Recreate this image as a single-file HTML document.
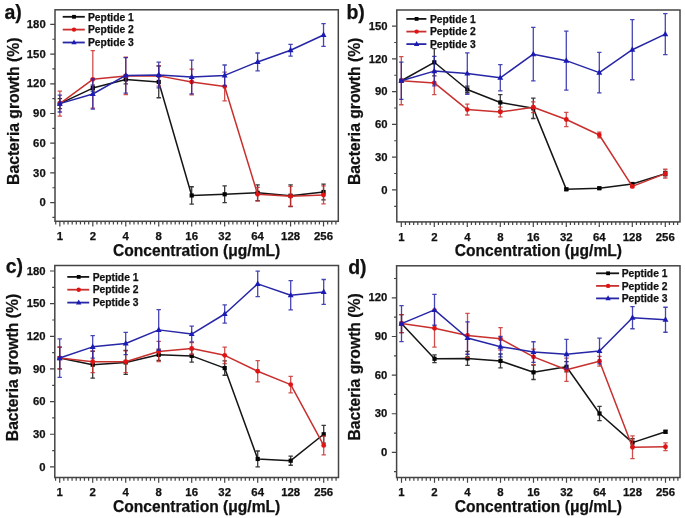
<!DOCTYPE html><html><head><meta charset="utf-8"><style>html,body{margin:0;padding:0;background:#fff;width:685px;height:518px;overflow:hidden}svg{display:block;filter:blur(0.35px)}text{font-family:'Liberation Sans', sans-serif;font-weight:bold;fill:#111;stroke:#111;stroke-width:0.25px}</style></head><body>
<svg width="685" height="518" viewBox="0 0 685 518">
<g><rect x="55" y="9.8" width="283.3" height="211.5" fill="none" stroke="#444444" stroke-width="1.5"/><path d="M52.4 217.45H55M50.2 202.6H55M52.4 187.75H55M50.2 172.9H55M52.4 158.05H55M50.2 143.2H55M52.4 128.35H55M50.2 113.5H55M52.4 98.65H55M50.2 83.8H55M52.4 68.95H55M50.2 54.1H55M52.4 39.25H55M50.2 24.4H55M55.73 221.3V224.5M59.85 221.3V226.5M63.97 221.3V224.5M68.09 221.3V224.5M72.21 221.3V224.5M76.33 221.3V224.5M80.45 221.3V224.5M84.57 221.3V224.5M88.69 221.3V224.5M92.81 221.3V226.5M96.93 221.3V224.5M101.05 221.3V224.5M105.17 221.3V224.5M109.29 221.3V224.5M113.41 221.3V224.5M117.53 221.3V224.5M121.65 221.3V224.5M125.77 221.3V226.5M129.89 221.3V224.5M134.01 221.3V224.5M138.13 221.3V224.5M142.25 221.3V224.5M146.37 221.3V224.5M150.49 221.3V224.5M154.61 221.3V224.5M158.73 221.3V226.5M162.85 221.3V224.5M166.97 221.3V224.5M171.09 221.3V224.5M175.21 221.3V224.5M179.33 221.3V224.5M183.45 221.3V224.5M187.57 221.3V224.5M191.69 221.3V226.5M195.81 221.3V224.5M199.93 221.3V224.5M204.05 221.3V224.5M208.17 221.3V224.5M212.29 221.3V224.5M216.41 221.3V224.5M220.53 221.3V224.5M224.65 221.3V226.5M228.77 221.3V224.5M232.89 221.3V224.5M237.01 221.3V224.5M241.13 221.3V224.5M245.25 221.3V224.5M249.37 221.3V224.5M253.49 221.3V224.5M257.61 221.3V226.5M261.73 221.3V224.5M265.85 221.3V224.5M269.97 221.3V224.5M274.09 221.3V224.5M278.21 221.3V224.5M282.33 221.3V224.5M286.45 221.3V224.5M290.57 221.3V226.5M294.69 221.3V224.5M298.81 221.3V224.5M302.93 221.3V224.5M307.05 221.3V224.5M311.17 221.3V224.5M315.29 221.3V224.5M319.41 221.3V224.5M323.53 221.3V226.5M327.65 221.3V224.5M331.77 221.3V224.5M335.89 221.3V224.5" stroke="#444444" stroke-width="1.2" fill="none"/><text x="45.7" y="206.2" font-size="11.3" text-anchor="end">0</text><text x="45.7" y="176.5" font-size="11.3" text-anchor="end">30</text><text x="45.7" y="146.8" font-size="11.3" text-anchor="end">60</text><text x="45.7" y="117.1" font-size="11.3" text-anchor="end">90</text><text x="45.7" y="87.4" font-size="11.3" text-anchor="end">120</text><text x="45.7" y="57.7" font-size="11.3" text-anchor="end">150</text><text x="45.7" y="28" font-size="11.3" text-anchor="end">180</text><text x="59.85" y="240" font-size="11.4" text-anchor="middle">1</text><text x="92.81" y="240" font-size="11.4" text-anchor="middle">2</text><text x="125.77" y="240" font-size="11.4" text-anchor="middle">4</text><text x="158.73" y="240" font-size="11.4" text-anchor="middle">8</text><text x="191.69" y="240" font-size="11.4" text-anchor="middle">16</text><text x="224.65" y="240" font-size="11.4" text-anchor="middle">32</text><text x="257.61" y="240" font-size="11.4" text-anchor="middle">64</text><text x="290.57" y="240" font-size="11.4" text-anchor="middle">128</text><text x="323.53" y="240" font-size="11.4" text-anchor="middle">256</text><path d="M59.85 98.65V108.55M57.65 98.65H62.05M57.65 108.55H62.05M92.81 85.09V91.03M90.61 85.09H95.01M90.61 91.03H95.01M125.77 74.99V83.9M123.57 74.99H127.97M123.57 83.9H127.97M158.73 66.08V97.76M156.53 66.08H160.93M156.53 97.76H160.93M191.69 186.76V204.18M189.49 186.76H193.89M189.49 204.18H193.89M224.65 185.97V202.6M222.45 185.97H226.85M222.45 202.6H226.85M257.61 184.88V200.72M255.41 184.88H259.81M255.41 200.72H259.81M290.57 184.88V206.66M288.37 184.88H292.77M288.37 206.66H292.77M323.53 184.09V199.93M321.33 184.09H325.73M321.33 199.93H325.73" stroke="#151515" stroke-width="1.3" fill="none" opacity="0.85"/><polyline points="59.85,103.6 92.81,88.06 125.77,79.44 158.73,81.92 191.69,195.47 224.65,194.28 257.61,192.8 290.57,195.77 323.53,192.01" stroke="#151515" stroke-width="1.5" fill="none" stroke-linejoin="round"/><rect x="57.75" y="101.5" width="4.2" height="4.2" fill="#050505"/><rect x="90.71" y="85.96" width="4.2" height="4.2" fill="#050505"/><rect x="123.67" y="77.34" width="4.2" height="4.2" fill="#050505"/><rect x="156.63" y="79.82" width="4.2" height="4.2" fill="#050505"/><rect x="189.59" y="193.37" width="4.2" height="4.2" fill="#050505"/><rect x="222.55" y="192.18" width="4.2" height="4.2" fill="#050505"/><rect x="255.51" y="190.7" width="4.2" height="4.2" fill="#050505"/><rect x="288.47" y="193.67" width="4.2" height="4.2" fill="#050505"/><rect x="321.43" y="189.91" width="4.2" height="4.2" fill="#050505"/><path d="M59.85 91.13V116.07M57.65 91.13H62.05M57.65 116.07H62.05M92.81 50.63V108.05M90.61 50.63H95.01M90.61 108.05H95.01M125.77 57.07V94.69M123.57 57.07H127.97M123.57 94.69H127.97M158.73 65.58V86.18M156.53 65.58H160.93M156.53 86.18H160.93M191.69 69.15V94.89M189.49 69.15H193.89M189.49 94.89H193.89M224.65 72.22V100.93M222.45 72.22H226.85M222.45 100.93H226.85M257.61 187.35V201.21M255.41 187.35H259.81M255.41 201.21H259.81M290.57 186.46V206.26M288.37 186.46H292.77M288.37 206.26H292.77M323.53 185.97V203.79M321.33 185.97H325.73M321.33 203.79H325.73" stroke="#c8302e" stroke-width="1.3" fill="none" opacity="0.85"/><polyline points="59.85,103.6 92.81,79.34 125.77,75.88 158.73,75.88 191.69,82.02 224.65,86.57 257.61,194.28 290.57,196.36 323.53,194.88" stroke="#c8302e" stroke-width="1.5" fill="none" stroke-linejoin="round"/><circle cx="59.85" cy="103.6" r="2.4" fill="#e01414"/><circle cx="92.81" cy="79.34" r="2.4" fill="#e01414"/><circle cx="125.77" cy="75.88" r="2.4" fill="#e01414"/><circle cx="158.73" cy="75.88" r="2.4" fill="#e01414"/><circle cx="191.69" cy="82.02" r="2.4" fill="#e01414"/><circle cx="224.65" cy="86.57" r="2.4" fill="#e01414"/><circle cx="257.61" cy="194.28" r="2.4" fill="#e01414"/><circle cx="290.57" cy="196.36" r="2.4" fill="#e01414"/><circle cx="323.53" cy="194.88" r="2.4" fill="#e01414"/><path d="M59.85 95.19V112.02M57.65 95.19H62.05M57.65 112.02H62.05M92.81 78.95V109.05M90.61 78.95H95.01M90.61 109.05H95.01M125.77 57.56V93.2M123.57 57.56H127.97M123.57 93.2H127.97M158.73 62.12V87.86M156.53 62.12H160.93M156.53 87.86H160.93M191.69 60.14V93.8M189.49 60.14H193.89M189.49 93.8H193.89M224.65 64.99V85.78M222.45 64.99H226.85M222.45 85.78H226.85M257.61 53.01V70.83M255.41 53.01H259.81M255.41 70.83H259.81M290.57 44.3V56.18M288.37 44.3H292.77M288.37 56.18H292.77M323.53 23.61V46.38M321.33 23.61H325.73M321.33 46.38H325.73" stroke="#2626a6" stroke-width="1.3" fill="none" opacity="0.85"/><polyline points="59.85,103.6 92.81,94 125.77,75.38 158.73,74.99 191.69,76.97 224.65,75.38 257.61,61.92 290.57,50.24 323.53,34.99" stroke="#2626a6" stroke-width="1.5" fill="none" stroke-linejoin="round"/><path d="M59.85 100.22L62.79 105.66L56.91 105.66Z" fill="#1a1ab4"/><path d="M92.81 90.62L95.75 96.05L89.87 96.05Z" fill="#1a1ab4"/><path d="M125.77 72L128.71 77.44L122.83 77.44Z" fill="#1a1ab4"/><path d="M158.73 71.61L161.67 77.05L155.79 77.05Z" fill="#1a1ab4"/><path d="M191.69 73.59L194.63 79.03L188.75 79.03Z" fill="#1a1ab4"/><path d="M224.65 72L227.59 77.44L221.71 77.44Z" fill="#1a1ab4"/><path d="M257.61 58.54L260.55 63.98L254.67 63.98Z" fill="#1a1ab4"/><path d="M290.57 46.86L293.51 52.3L287.63 52.3Z" fill="#1a1ab4"/><path d="M323.53 31.61L326.47 37.05L320.59 37.05Z" fill="#1a1ab4"/><path d="M62.7 16.8H84.8" stroke="#151515" stroke-width="1.8"/><rect x="72.1" y="14.9" width="3.8" height="3.8" fill="#050505"/><text x="88" y="20.5" font-size="10.3">Peptide 1</text><path d="M62.7 29.6H84.8" stroke="#c8302e" stroke-width="1.8"/><circle cx="74" cy="29.6" r="2.2" fill="#e01414"/><text x="88" y="33.3" font-size="10.3">Peptide 2</text><path d="M62.7 42.5H84.8" stroke="#2626a6" stroke-width="1.8"/><path d="M74 39.44L76.66 44.36L71.34 44.36Z" fill="#1a1ab4"/><text x="88" y="46.2" font-size="10.3">Peptide 3</text><text x="4.4" y="19" font-size="19.5">a)</text><text transform="translate(18.8 184.9) rotate(-90)" font-size="15.7">Bacteria growth (%)</text><text x="196.65" y="255.6" font-size="15.6" text-anchor="middle">Concentration (μg/mL)</text></g>
<g><rect x="396.8" y="10" width="283.2" height="211.9" fill="none" stroke="#444444" stroke-width="1.5"/><path d="M394.2 206.28H396.8M392 189.9H396.8M394.2 173.52H396.8M392 157.15H396.8M394.2 140.77H396.8M392 124.4H396.8M394.2 108.02H396.8M392 91.65H396.8M394.2 75.27H396.8M392 58.9H396.8M394.2 42.52H396.8M392 26.15H396.8M401.3 221.9V227.1M405.43 221.9V225.1M409.55 221.9V225.1M413.68 221.9V225.1M417.8 221.9V225.1M421.93 221.9V225.1M426.05 221.9V225.1M430.18 221.9V225.1M434.3 221.9V227.1M438.43 221.9V225.1M442.55 221.9V225.1M446.68 221.9V225.1M450.8 221.9V225.1M454.93 221.9V225.1M459.05 221.9V225.1M463.18 221.9V225.1M467.3 221.9V227.1M471.43 221.9V225.1M475.55 221.9V225.1M479.68 221.9V225.1M483.8 221.9V225.1M487.93 221.9V225.1M492.05 221.9V225.1M496.18 221.9V225.1M500.3 221.9V227.1M504.43 221.9V225.1M508.55 221.9V225.1M512.67 221.9V225.1M516.8 221.9V225.1M520.92 221.9V225.1M525.05 221.9V225.1M529.17 221.9V225.1M533.3 221.9V227.1M537.42 221.9V225.1M541.55 221.9V225.1M545.67 221.9V225.1M549.8 221.9V225.1M553.92 221.9V225.1M558.05 221.9V225.1M562.17 221.9V225.1M566.3 221.9V227.1M570.42 221.9V225.1M574.55 221.9V225.1M578.67 221.9V225.1M582.8 221.9V225.1M586.92 221.9V225.1M591.05 221.9V225.1M595.17 221.9V225.1M599.3 221.9V227.1M603.42 221.9V225.1M607.55 221.9V225.1M611.67 221.9V225.1M615.8 221.9V225.1M619.92 221.9V225.1M624.05 221.9V225.1M628.17 221.9V225.1M632.3 221.9V227.1M636.42 221.9V225.1M640.55 221.9V225.1M644.67 221.9V225.1M648.8 221.9V225.1M652.92 221.9V225.1M657.05 221.9V225.1M661.17 221.9V225.1M665.3 221.9V227.1M669.42 221.9V225.1M673.55 221.9V225.1M677.67 221.9V225.1" stroke="#444444" stroke-width="1.2" fill="none"/><text x="387.5" y="193.5" font-size="11.3" text-anchor="end">0</text><text x="387.5" y="160.75" font-size="11.3" text-anchor="end">30</text><text x="387.5" y="128" font-size="11.3" text-anchor="end">60</text><text x="387.5" y="95.25" font-size="11.3" text-anchor="end">90</text><text x="387.5" y="62.5" font-size="11.3" text-anchor="end">120</text><text x="387.5" y="29.75" font-size="11.3" text-anchor="end">150</text><text x="401.3" y="240.6" font-size="11.4" text-anchor="middle">1</text><text x="434.3" y="240.6" font-size="11.4" text-anchor="middle">2</text><text x="467.3" y="240.6" font-size="11.4" text-anchor="middle">4</text><text x="500.3" y="240.6" font-size="11.4" text-anchor="middle">8</text><text x="533.3" y="240.6" font-size="11.4" text-anchor="middle">16</text><text x="566.3" y="240.6" font-size="11.4" text-anchor="middle">32</text><text x="599.3" y="240.6" font-size="11.4" text-anchor="middle">64</text><text x="632.3" y="240.6" font-size="11.4" text-anchor="middle">128</text><text x="665.3" y="240.6" font-size="11.4" text-anchor="middle">256</text><path d="M401.3 79.64V81.82M399.1 79.64H403.5M399.1 81.82H403.5M434.3 48.63V75.93M432.1 48.63H436.5M432.1 75.93H436.5M467.3 86.19V92.74M465.1 86.19H469.5M465.1 92.74H469.5M500.3 94.59V110.32M498.1 94.59H502.5M498.1 110.32H502.5M533.3 98.2V118.5M531.1 98.2H535.5M531.1 118.5H535.5M566.3 188.26V190.45M564.1 188.26H568.5M564.1 190.45H568.5M599.3 187.17V189.35M597.1 187.17H601.5M597.1 189.35H601.5M632.3 182.91V185.1M630.1 182.91H634.5M630.1 185.1H634.5M665.3 171.45V175.82M663.1 171.45H667.5M663.1 175.82H667.5" stroke="#151515" stroke-width="1.3" fill="none" opacity="0.85"/><polyline points="401.3,80.73 434.3,62.28 467.3,89.46 500.3,102.45 533.3,108.35 566.3,189.35 599.3,188.26 632.3,184 665.3,173.63" stroke="#151515" stroke-width="1.5" fill="none" stroke-linejoin="round"/><rect x="399.2" y="78.63" width="4.2" height="4.2" fill="#050505"/><rect x="432.2" y="60.18" width="4.2" height="4.2" fill="#050505"/><rect x="465.2" y="87.36" width="4.2" height="4.2" fill="#050505"/><rect x="498.2" y="100.35" width="4.2" height="4.2" fill="#050505"/><rect x="531.2" y="106.25" width="4.2" height="4.2" fill="#050505"/><rect x="564.2" y="187.25" width="4.2" height="4.2" fill="#050505"/><rect x="597.2" y="186.16" width="4.2" height="4.2" fill="#050505"/><rect x="630.2" y="181.9" width="4.2" height="4.2" fill="#050505"/><rect x="663.2" y="171.53" width="4.2" height="4.2" fill="#050505"/><path d="M401.3 56.71V104.75M399.1 56.71H403.5M399.1 104.75H403.5M434.3 71.23V94.59M432.1 71.23H436.5M432.1 94.59H436.5M467.3 104.09V115.01M465.1 104.09H469.5M465.1 115.01H469.5M500.3 107.04V116.87M498.1 107.04H502.5M498.1 116.87H502.5M533.3 101.8V112.72M531.1 101.8H535.5M531.1 112.72H535.5M566.3 112.28V126.69M564.1 112.28H568.5M564.1 126.69H568.5M599.3 132.04V137.94M597.1 132.04H601.5M597.1 137.94H601.5M632.3 185.31V187.5M630.1 185.31H634.5M630.1 187.5H634.5M665.3 169.27V178M663.1 169.27H667.5M663.1 178H667.5" stroke="#c8302e" stroke-width="1.3" fill="none" opacity="0.85"/><polyline points="401.3,80.73 434.3,82.91 467.3,109.55 500.3,111.95 533.3,107.26 566.3,119.49 599.3,134.99 632.3,186.41 665.3,173.63" stroke="#c8302e" stroke-width="1.5" fill="none" stroke-linejoin="round"/><circle cx="401.3" cy="80.73" r="2.4" fill="#e01414"/><circle cx="434.3" cy="82.91" r="2.4" fill="#e01414"/><circle cx="467.3" cy="109.55" r="2.4" fill="#e01414"/><circle cx="500.3" cy="111.95" r="2.4" fill="#e01414"/><circle cx="533.3" cy="107.26" r="2.4" fill="#e01414"/><circle cx="566.3" cy="119.49" r="2.4" fill="#e01414"/><circle cx="599.3" cy="134.99" r="2.4" fill="#e01414"/><circle cx="632.3" cy="186.41" r="2.4" fill="#e01414"/><circle cx="665.3" cy="173.63" r="2.4" fill="#e01414"/><path d="M401.3 62.17V99.29M399.1 62.17H403.5M399.1 99.29H403.5M434.3 56.39V85.86M432.1 56.39H436.5M432.1 85.86H436.5M467.3 52.78V94.27M465.1 52.78H469.5M465.1 94.27H469.5M500.3 64.68V90.88M498.1 64.68H502.5M498.1 90.88H502.5M533.3 27.46V80.95M531.1 27.46H535.5M531.1 80.95H535.5M566.3 31.17V90.12M564.1 31.17H568.5M564.1 90.12H568.5M599.3 52.45V92.85M597.1 52.45H601.5M597.1 92.85H601.5M632.3 19.7V79.75M630.1 19.7H634.5M630.1 79.75H634.5M665.3 13.59V54.64M663.1 13.59H667.5M663.1 54.64H667.5" stroke="#2626a6" stroke-width="1.3" fill="none" opacity="0.85"/><polyline points="401.3,80.73 434.3,71.12 467.3,73.52 500.3,77.78 533.3,54.2 566.3,60.64 599.3,72.65 632.3,49.73 665.3,34.11" stroke="#2626a6" stroke-width="1.5" fill="none" stroke-linejoin="round"/><path d="M401.3 77.35L404.24 82.79L398.36 82.79Z" fill="#1a1ab4"/><path d="M434.3 67.74L437.24 73.18L431.36 73.18Z" fill="#1a1ab4"/><path d="M467.3 70.14L470.24 75.58L464.36 75.58Z" fill="#1a1ab4"/><path d="M500.3 74.4L503.24 79.84L497.36 79.84Z" fill="#1a1ab4"/><path d="M533.3 50.82L536.24 56.26L530.36 56.26Z" fill="#1a1ab4"/><path d="M566.3 57.26L569.24 62.7L563.36 62.7Z" fill="#1a1ab4"/><path d="M599.3 69.27L602.24 74.71L596.36 74.71Z" fill="#1a1ab4"/><path d="M632.3 46.34L635.24 51.78L629.36 51.78Z" fill="#1a1ab4"/><path d="M665.3 30.73L668.24 36.17L662.36 36.17Z" fill="#1a1ab4"/><path d="M406.4 18.9H426.4" stroke="#151515" stroke-width="1.8"/><rect x="414.7" y="17" width="3.8" height="3.8" fill="#050505"/><text x="430" y="22.6" font-size="10.3">Peptide 1</text><path d="M406.4 31.6H426.4" stroke="#c8302e" stroke-width="1.8"/><circle cx="416.6" cy="31.6" r="2.2" fill="#e01414"/><text x="430" y="35.3" font-size="10.3">Peptide 2</text><path d="M406.4 44.1H426.4" stroke="#2626a6" stroke-width="1.8"/><path d="M416.6 41.04L419.26 45.96L413.94 45.96Z" fill="#1a1ab4"/><text x="430" y="47.8" font-size="10.3">Peptide 3</text><text x="346.4" y="19.3" font-size="19.5">b)</text><text transform="translate(359.9 185) rotate(-90)" font-size="15.7">Bacteria growth (%)</text><text x="538.4" y="256.2" font-size="15.6" text-anchor="middle">Concentration (μg/mL)</text></g>
<g><rect x="54.8" y="265.5" width="283.7" height="212" fill="none" stroke="#444444" stroke-width="1.5"/><path d="M50 466.9H54.8M52.2 450.58H54.8M50 434.25H54.8M52.2 417.93H54.8M50 401.6H54.8M52.2 385.28H54.8M50 368.95H54.8M52.2 352.63H54.8M50 336.3H54.8M52.2 319.98H54.8M50 303.65H54.8M52.2 287.33H54.8M50 271.01H54.8M55.58 477.5V480.7M59.7 477.5V482.7M63.83 477.5V480.7M67.95 477.5V480.7M72.08 477.5V480.7M76.2 477.5V480.7M80.33 477.5V480.7M84.45 477.5V480.7M88.58 477.5V480.7M92.7 477.5V482.7M96.83 477.5V480.7M100.95 477.5V480.7M105.08 477.5V480.7M109.2 477.5V480.7M113.33 477.5V480.7M117.45 477.5V480.7M121.58 477.5V480.7M125.7 477.5V482.7M129.82 477.5V480.7M133.95 477.5V480.7M138.07 477.5V480.7M142.2 477.5V480.7M146.32 477.5V480.7M150.45 477.5V480.7M154.57 477.5V480.7M158.7 477.5V482.7M162.82 477.5V480.7M166.95 477.5V480.7M171.07 477.5V480.7M175.2 477.5V480.7M179.32 477.5V480.7M183.45 477.5V480.7M187.57 477.5V480.7M191.7 477.5V482.7M195.82 477.5V480.7M199.95 477.5V480.7M204.07 477.5V480.7M208.2 477.5V480.7M212.32 477.5V480.7M216.45 477.5V480.7M220.57 477.5V480.7M224.7 477.5V482.7M228.82 477.5V480.7M232.95 477.5V480.7M237.07 477.5V480.7M241.2 477.5V480.7M245.32 477.5V480.7M249.45 477.5V480.7M253.57 477.5V480.7M257.7 477.5V482.7M261.82 477.5V480.7M265.95 477.5V480.7M270.07 477.5V480.7M274.2 477.5V480.7M278.32 477.5V480.7M282.45 477.5V480.7M286.57 477.5V480.7M290.7 477.5V482.7M294.82 477.5V480.7M298.95 477.5V480.7M303.07 477.5V480.7M307.2 477.5V480.7M311.32 477.5V480.7M315.45 477.5V480.7M319.57 477.5V480.7M323.7 477.5V482.7M327.82 477.5V480.7M331.95 477.5V480.7M336.07 477.5V480.7" stroke="#444444" stroke-width="1.2" fill="none"/><text x="45.5" y="470.5" font-size="11.3" text-anchor="end">0</text><text x="45.5" y="437.85" font-size="11.3" text-anchor="end">30</text><text x="45.5" y="405.2" font-size="11.3" text-anchor="end">60</text><text x="45.5" y="372.55" font-size="11.3" text-anchor="end">90</text><text x="45.5" y="339.9" font-size="11.3" text-anchor="end">120</text><text x="45.5" y="307.25" font-size="11.3" text-anchor="end">150</text><text x="45.5" y="274.61" font-size="11.3" text-anchor="end">180</text><text x="59.7" y="496.2" font-size="11.4" text-anchor="middle">1</text><text x="92.7" y="496.2" font-size="11.4" text-anchor="middle">2</text><text x="125.7" y="496.2" font-size="11.4" text-anchor="middle">4</text><text x="158.7" y="496.2" font-size="11.4" text-anchor="middle">8</text><text x="191.7" y="496.2" font-size="11.4" text-anchor="middle">16</text><text x="224.7" y="496.2" font-size="11.4" text-anchor="middle">32</text><text x="257.7" y="496.2" font-size="11.4" text-anchor="middle">64</text><text x="290.7" y="496.2" font-size="11.4" text-anchor="middle">128</text><text x="323.7" y="496.2" font-size="11.4" text-anchor="middle">256</text><path d="M59.7 347.19V368.95M57.5 347.19H61.9M57.5 368.95H61.9M92.7 351.32V378.09M90.5 351.32H94.9M90.5 378.09H94.9M125.7 350.45V374.39M123.5 350.45H127.9M123.5 374.39H127.9M158.7 349.15V360.46M156.5 349.15H160.9M156.5 360.46H160.9M191.7 349.58V362.21M189.5 349.58H193.9M189.5 362.21H193.9M224.7 360.9V375.27M222.5 360.9H226.9M222.5 375.27H226.9M257.7 451.01V466.9M255.5 451.01H259.9M255.5 466.9H259.9M290.7 456.13V465.27M288.5 456.13H292.9M288.5 465.27H292.9M323.7 425.33V443.18M321.5 425.33H325.9M321.5 443.18H325.9" stroke="#151515" stroke-width="1.3" fill="none" opacity="0.85"/><polyline points="59.7,358.07 92.7,364.71 125.7,362.42 158.7,354.81 191.7,355.89 224.7,368.08 257.7,458.96 290.7,460.7 323.7,434.25" stroke="#151515" stroke-width="1.5" fill="none" stroke-linejoin="round"/><rect x="57.6" y="355.97" width="4.2" height="4.2" fill="#050505"/><rect x="90.6" y="362.61" width="4.2" height="4.2" fill="#050505"/><rect x="123.6" y="360.32" width="4.2" height="4.2" fill="#050505"/><rect x="156.6" y="352.71" width="4.2" height="4.2" fill="#050505"/><rect x="189.6" y="353.79" width="4.2" height="4.2" fill="#050505"/><rect x="222.6" y="365.98" width="4.2" height="4.2" fill="#050505"/><rect x="255.6" y="456.86" width="4.2" height="4.2" fill="#050505"/><rect x="288.6" y="458.6" width="4.2" height="4.2" fill="#050505"/><rect x="321.6" y="432.15" width="4.2" height="4.2" fill="#050505"/><path d="M59.7 347.19V368.95M57.5 347.19H61.9M57.5 368.95H61.9M92.7 350.89V372.65M90.5 350.89H94.9M90.5 372.65H94.9M125.7 350.89V372.65M123.5 350.89H127.9M123.5 372.65H127.9M158.7 341.42V361.66M156.5 341.42H160.9M156.5 361.66H160.9M191.7 342.72V354.26M189.5 342.72H193.9M189.5 354.26H193.9M224.7 347.08V363.62M222.5 347.08H226.9M222.5 363.62H226.9M257.7 360.68V381.79M255.5 360.68H259.9M255.5 381.79H259.9M290.7 376.35V392.9M288.5 376.35H292.9M288.5 392.9H292.9M323.7 436.1V454.82M321.5 436.1H325.9M321.5 454.82H325.9" stroke="#c8302e" stroke-width="1.3" fill="none" opacity="0.85"/><polyline points="59.7,358.07 92.7,361.77 125.7,361.77 158.7,351.54 191.7,348.49 224.7,355.35 257.7,371.24 290.7,384.62 323.7,445.46" stroke="#c8302e" stroke-width="1.5" fill="none" stroke-linejoin="round"/><circle cx="59.7" cy="358.07" r="2.4" fill="#e01414"/><circle cx="92.7" cy="361.77" r="2.4" fill="#e01414"/><circle cx="125.7" cy="361.77" r="2.4" fill="#e01414"/><circle cx="158.7" cy="351.54" r="2.4" fill="#e01414"/><circle cx="191.7" cy="348.49" r="2.4" fill="#e01414"/><circle cx="224.7" cy="355.35" r="2.4" fill="#e01414"/><circle cx="257.7" cy="371.24" r="2.4" fill="#e01414"/><circle cx="290.7" cy="384.62" r="2.4" fill="#e01414"/><circle cx="323.7" cy="445.46" r="2.4" fill="#e01414"/><path d="M59.7 338.81V377.33M57.5 338.81H61.9M57.5 377.33H61.9M92.7 335.65V358.07M90.5 335.65H94.9M90.5 358.07H94.9M125.7 332.39V354.59M123.5 332.39H127.9M123.5 354.59H127.9M158.7 309.53V350.23M156.5 309.53H160.9M156.5 350.23H160.9M191.7 326.07V341.96M189.5 326.07H193.9M189.5 341.96H193.9M224.7 304.96V323.03M222.5 304.96H226.9M222.5 323.03H226.9M257.7 271.11V296.58M255.5 271.11H259.9M255.5 296.58H259.9M290.7 280.58V309.97M288.5 280.58H292.9M288.5 309.97H292.9M323.7 279.49V304.31M321.5 279.49H325.9M321.5 304.31H325.9" stroke="#2626a6" stroke-width="1.3" fill="none" opacity="0.85"/><polyline points="59.7,358.07 92.7,346.86 125.7,343.49 158.7,329.88 191.7,334.02 224.7,313.99 257.7,283.85 290.7,295.28 323.7,291.9" stroke="#2626a6" stroke-width="1.5" fill="none" stroke-linejoin="round"/><path d="M59.7 354.69L62.64 360.13L56.76 360.13Z" fill="#1a1ab4"/><path d="M92.7 343.48L95.64 348.92L89.76 348.92Z" fill="#1a1ab4"/><path d="M125.7 340.11L128.64 345.54L122.76 345.54Z" fill="#1a1ab4"/><path d="M158.7 326.5L161.64 331.94L155.76 331.94Z" fill="#1a1ab4"/><path d="M191.7 330.64L194.64 336.08L188.76 336.08Z" fill="#1a1ab4"/><path d="M224.7 310.61L227.64 316.05L221.76 316.05Z" fill="#1a1ab4"/><path d="M257.7 280.47L260.64 285.91L254.76 285.91Z" fill="#1a1ab4"/><path d="M290.7 291.89L293.64 297.33L287.76 297.33Z" fill="#1a1ab4"/><path d="M323.7 288.52L326.64 293.96L320.76 293.96Z" fill="#1a1ab4"/><path d="M67.3 276.9H89.2" stroke="#151515" stroke-width="1.8"/><rect x="76.8" y="275" width="3.8" height="3.8" fill="#050505"/><text x="92.7" y="280.6" font-size="10.3">Peptide 1</text><path d="M67.3 289.7H89.2" stroke="#c8302e" stroke-width="1.8"/><circle cx="78.7" cy="289.7" r="2.2" fill="#e01414"/><text x="92.7" y="293.4" font-size="10.3">Peptide 2</text><path d="M67.3 302.6H89.2" stroke="#2626a6" stroke-width="1.8"/><path d="M78.7 299.54L81.36 304.46L76.04 304.46Z" fill="#1a1ab4"/><text x="92.7" y="306.3" font-size="10.3">Peptide 3</text><text x="5.7" y="272.6" font-size="19.5">c)</text><text transform="translate(17.8 441.2) rotate(-90)" font-size="15.7">Bacteria growth (%)</text><text x="196.65" y="511.8" font-size="15.6" text-anchor="middle">Concentration (μg/mL)</text></g>
<g><rect x="396.6" y="265.8" width="283.4" height="211.7" fill="none" stroke="#444444" stroke-width="1.5"/><path d="M394 471.72H396.6M391.8 452.4H396.6M394 433.08H396.6M391.8 413.76H396.6M394 394.44H396.6M391.8 375.12H396.6M394 355.8H396.6M391.8 336.48H396.6M394 317.16H396.6M391.8 297.84H396.6M394 278.52H396.6M397.38 477.5V480.7M401.5 477.5V482.7M405.62 477.5V480.7M409.75 477.5V480.7M413.88 477.5V480.7M418 477.5V480.7M422.12 477.5V480.7M426.25 477.5V480.7M430.38 477.5V480.7M434.5 477.5V482.7M438.62 477.5V480.7M442.75 477.5V480.7M446.88 477.5V480.7M451 477.5V480.7M455.12 477.5V480.7M459.25 477.5V480.7M463.38 477.5V480.7M467.5 477.5V482.7M471.62 477.5V480.7M475.75 477.5V480.7M479.88 477.5V480.7M484 477.5V480.7M488.12 477.5V480.7M492.25 477.5V480.7M496.38 477.5V480.7M500.5 477.5V482.7M504.62 477.5V480.7M508.75 477.5V480.7M512.88 477.5V480.7M517 477.5V480.7M521.12 477.5V480.7M525.25 477.5V480.7M529.38 477.5V480.7M533.5 477.5V482.7M537.62 477.5V480.7M541.75 477.5V480.7M545.88 477.5V480.7M550 477.5V480.7M554.12 477.5V480.7M558.25 477.5V480.7M562.38 477.5V480.7M566.5 477.5V482.7M570.62 477.5V480.7M574.75 477.5V480.7M578.88 477.5V480.7M583 477.5V480.7M587.12 477.5V480.7M591.25 477.5V480.7M595.38 477.5V480.7M599.5 477.5V482.7M603.62 477.5V480.7M607.75 477.5V480.7M611.88 477.5V480.7M616 477.5V480.7M620.12 477.5V480.7M624.25 477.5V480.7M628.38 477.5V480.7M632.5 477.5V482.7M636.62 477.5V480.7M640.75 477.5V480.7M644.88 477.5V480.7M649 477.5V480.7M653.12 477.5V480.7M657.25 477.5V480.7M661.38 477.5V480.7M665.5 477.5V482.7M669.62 477.5V480.7M673.75 477.5V480.7M677.88 477.5V480.7" stroke="#444444" stroke-width="1.2" fill="none"/><text x="387.3" y="456" font-size="11.3" text-anchor="end">0</text><text x="387.3" y="417.36" font-size="11.3" text-anchor="end">30</text><text x="387.3" y="378.72" font-size="11.3" text-anchor="end">60</text><text x="387.3" y="340.08" font-size="11.3" text-anchor="end">90</text><text x="387.3" y="301.44" font-size="11.3" text-anchor="end">120</text><text x="401.5" y="496.2" font-size="11.4" text-anchor="middle">1</text><text x="434.5" y="496.2" font-size="11.4" text-anchor="middle">2</text><text x="467.5" y="496.2" font-size="11.4" text-anchor="middle">4</text><text x="500.5" y="496.2" font-size="11.4" text-anchor="middle">8</text><text x="533.5" y="496.2" font-size="11.4" text-anchor="middle">16</text><text x="566.5" y="496.2" font-size="11.4" text-anchor="middle">32</text><text x="599.5" y="496.2" font-size="11.4" text-anchor="middle">64</text><text x="632.5" y="496.2" font-size="11.4" text-anchor="middle">128</text><text x="665.5" y="496.2" font-size="11.4" text-anchor="middle">256</text><path d="M401.5 314.58V332.62M399.3 314.58H403.7M399.3 332.62H403.7M434.5 354.9V362.63M432.3 354.9H436.7M432.3 362.63H436.7M467.5 351.29V365.46M465.3 351.29H469.7M465.3 365.46H469.7M500.5 354V367.91M498.3 354H502.7M498.3 367.91H502.7M533.5 365.07V379.5M531.3 365.07H535.7M531.3 379.5H535.7M566.5 361.6V371.9M564.3 361.6H568.7M564.3 371.9H568.7M599.5 406.29V420.72M597.3 406.29H601.7M597.3 420.72H601.7M632.5 438.75V446.48M630.3 438.75H634.7M630.3 446.48H634.7M665.5 430.5V433.08M663.3 430.5H667.7M663.3 433.08H667.7" stroke="#151515" stroke-width="1.3" fill="none" opacity="0.85"/><polyline points="401.5,323.6 434.5,358.76 467.5,358.38 500.5,360.95 533.5,372.29 566.5,366.75 599.5,413.5 632.5,442.61 665.5,431.79" stroke="#151515" stroke-width="1.5" fill="none" stroke-linejoin="round"/><rect x="399.4" y="321.5" width="4.2" height="4.2" fill="#050505"/><rect x="432.4" y="356.66" width="4.2" height="4.2" fill="#050505"/><rect x="465.4" y="356.28" width="4.2" height="4.2" fill="#050505"/><rect x="498.4" y="358.85" width="4.2" height="4.2" fill="#050505"/><rect x="531.4" y="370.19" width="4.2" height="4.2" fill="#050505"/><rect x="564.4" y="364.65" width="4.2" height="4.2" fill="#050505"/><rect x="597.4" y="411.4" width="4.2" height="4.2" fill="#050505"/><rect x="630.4" y="440.51" width="4.2" height="4.2" fill="#050505"/><rect x="663.4" y="429.69" width="4.2" height="4.2" fill="#050505"/><path d="M401.5 314.58V332.62M399.3 314.58H403.7M399.3 332.62H403.7M434.5 309.3V347.17M432.3 309.3H436.7M432.3 347.17H436.7M467.5 313.3V357.6M465.3 313.3H469.7M465.3 357.6H469.7M500.5 327.59V350M498.3 327.59H502.7M498.3 350H502.7M533.5 349.1V364.56M531.3 349.1H535.7M531.3 364.56H535.7M566.5 358.12V381.3M564.3 358.12H568.7M564.3 381.3H568.7M599.5 356.32V366.1M597.3 356.32H601.7M597.3 366.1H601.7M632.5 435.78V458.71M630.3 435.78H634.7M630.3 458.71H634.7M665.5 442.87V450.6M663.3 442.87H667.7M663.3 450.6H667.7" stroke="#c8302e" stroke-width="1.3" fill="none" opacity="0.85"/><polyline points="401.5,323.6 434.5,328.24 467.5,335.45 500.5,338.8 533.5,356.83 566.5,369.71 599.5,361.21 632.5,447.25 665.5,446.73" stroke="#c8302e" stroke-width="1.5" fill="none" stroke-linejoin="round"/><circle cx="401.5" cy="323.6" r="2.4" fill="#e01414"/><circle cx="434.5" cy="328.24" r="2.4" fill="#e01414"/><circle cx="467.5" cy="335.45" r="2.4" fill="#e01414"/><circle cx="500.5" cy="338.8" r="2.4" fill="#e01414"/><circle cx="533.5" cy="356.83" r="2.4" fill="#e01414"/><circle cx="566.5" cy="369.71" r="2.4" fill="#e01414"/><circle cx="599.5" cy="361.21" r="2.4" fill="#e01414"/><circle cx="632.5" cy="447.25" r="2.4" fill="#e01414"/><circle cx="665.5" cy="446.73" r="2.4" fill="#e01414"/><path d="M401.5 305.57V341.63M399.3 305.57H403.7M399.3 341.63H403.7M434.5 294.36V325.27M432.3 294.36H436.7M432.3 325.27H436.7M467.5 321.8V354.25M465.3 321.8H469.7M465.3 354.25H469.7M500.5 336.35V356.96M498.3 336.35H502.7M498.3 356.96H502.7M533.5 341.76V362.37M531.3 341.76H535.7M531.3 362.37H535.7M566.5 339.31V368.94M564.3 339.31H568.7M564.3 368.94H568.7M599.5 338.15V363.91M597.3 338.15H601.7M597.3 363.91H601.7M632.5 306.6V328.75M630.3 306.6H634.7M630.3 328.75H634.7M665.5 307.24V332.23M663.3 307.24H667.7M663.3 332.23H667.7" stroke="#2626a6" stroke-width="1.3" fill="none" opacity="0.85"/><polyline points="401.5,323.6 434.5,309.82 467.5,338.03 500.5,346.66 533.5,352.06 566.5,354.13 599.5,351.03 632.5,317.68 665.5,319.74" stroke="#2626a6" stroke-width="1.5" fill="none" stroke-linejoin="round"/><path d="M401.5 320.22L404.44 325.66L398.56 325.66Z" fill="#1a1ab4"/><path d="M434.5 306.44L437.44 311.88L431.56 311.88Z" fill="#1a1ab4"/><path d="M467.5 334.64L470.44 340.08L464.56 340.08Z" fill="#1a1ab4"/><path d="M500.5 343.27L503.44 348.71L497.56 348.71Z" fill="#1a1ab4"/><path d="M533.5 348.68L536.44 354.12L530.56 354.12Z" fill="#1a1ab4"/><path d="M566.5 350.74L569.44 356.18L563.56 356.18Z" fill="#1a1ab4"/><path d="M599.5 347.65L602.44 353.09L596.56 353.09Z" fill="#1a1ab4"/><path d="M632.5 314.29L635.44 319.73L629.56 319.73Z" fill="#1a1ab4"/><path d="M665.5 316.36L668.44 321.79L662.56 321.79Z" fill="#1a1ab4"/><path d="M596.1 273.3H619.1" stroke="#151515" stroke-width="1.8"/><rect x="606.2" y="271.4" width="3.8" height="3.8" fill="#050505"/><text x="621.7" y="277" font-size="10.3">Peptide 1</text><path d="M596.1 285.9H619.1" stroke="#c8302e" stroke-width="1.8"/><circle cx="608.1" cy="285.9" r="2.2" fill="#e01414"/><text x="621.7" y="289.6" font-size="10.3">Peptide 2</text><path d="M596.1 298.4H619.1" stroke="#2626a6" stroke-width="1.8"/><path d="M608.1 295.34L610.76 300.26L605.44 300.26Z" fill="#1a1ab4"/><text x="621.7" y="302.1" font-size="10.3">Peptide 3</text><text x="348.2" y="274" font-size="19.5">d)</text><text transform="translate(360.2 440.6) rotate(-90)" font-size="15.7">Bacteria growth (%)</text><text x="538.3" y="511.8" font-size="15.6" text-anchor="middle">Concentration (μg/mL)</text></g>
</svg></body></html>
